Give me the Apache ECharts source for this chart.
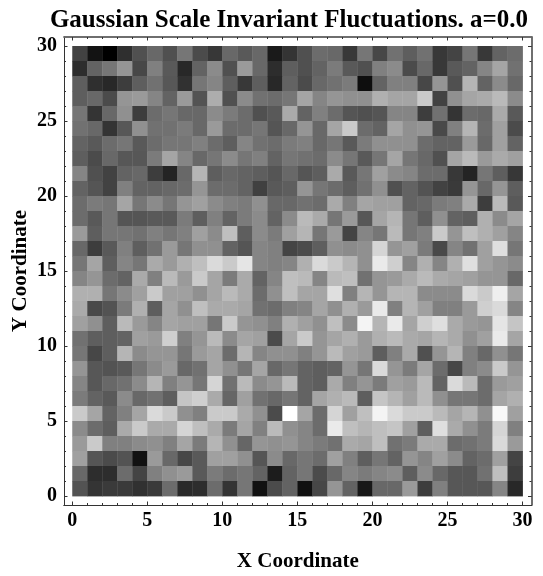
<!DOCTYPE html>
<html><head><meta charset="utf-8">
<script src="https://cdn.jsdelivr.net/npm/echarts@6/dist/echarts.min.js"></script>
<style>html,body{margin:0;padding:0;background:#fff}#c{width:543px;height:576px}</style>
</head><body><div id="c"></div>
<script>
const titleText = 'Gaussian Scale Invariant Fluctuations. a=0.0';
const xName = 'X Coordinate';
const yName = 'Y Coordinate';
const majorTicks = [0,5,10,15,20,25,30];
const minorTicks = [0,1,2,3,4,5,6,7,8,9,10,11,12,13,14,15,16,17,18,19,20,21,22,23,24,25,26,27,28,29,30];
// gray level of each cell, top row (y=29..30) first, left to right
const grayRows = [
[70,20,0,50,85,110,85,125,80,58,110,95,110,28,55,85,115,110,60,125,75,120,100,120,60,72,125,60,105,115],
[48,105,125,155,75,135,95,42,105,145,85,160,110,48,100,85,105,130,95,85,135,145,80,110,60,95,105,140,170,120],
[100,50,42,65,100,120,92,52,125,140,100,60,100,42,105,80,110,120,130,15,105,135,135,75,155,85,185,105,145,110],
[100,110,80,155,160,140,105,160,88,178,85,145,120,115,125,170,140,155,150,150,180,170,170,205,70,150,170,175,190,145],
[125,55,110,150,65,115,125,110,110,145,130,115,85,95,175,105,135,115,90,85,90,140,140,65,120,55,115,110,175,95],
[120,110,55,92,150,120,120,130,110,160,115,115,125,90,110,155,110,170,205,115,105,170,150,155,78,135,185,115,165,80],
[105,95,115,125,95,115,125,125,135,115,100,140,120,115,130,135,110,125,95,130,150,150,150,115,105,105,160,110,165,105],
[100,80,110,92,92,130,170,140,110,125,145,125,135,105,125,120,115,145,125,95,125,170,125,110,85,170,190,160,175,165],
[140,85,70,105,110,65,38,110,185,100,110,105,100,90,110,90,100,175,95,125,165,145,140,115,115,60,38,125,100,58],
[105,90,70,135,105,105,110,115,155,115,115,105,68,95,100,155,125,115,100,120,150,85,105,88,70,62,155,110,155,100],
[115,130,125,170,125,145,125,155,165,145,135,130,150,110,110,120,115,175,135,170,165,165,105,110,130,135,175,65,190,95],
[115,95,125,90,90,95,95,130,100,135,105,130,145,105,145,190,175,125,160,92,170,185,125,100,150,105,100,180,145,170],
[160,100,125,125,120,135,125,135,165,145,195,100,145,130,165,185,125,160,72,140,125,190,125,135,205,155,195,180,165,140],
[110,65,95,135,100,120,160,125,150,150,105,90,140,135,72,80,100,150,145,150,215,155,165,130,78,140,120,165,225,125],
[125,170,100,140,125,175,160,180,195,220,205,230,140,135,140,180,220,205,185,150,235,210,140,180,140,180,225,165,155,145],
[140,155,115,105,175,135,190,160,205,170,130,175,105,140,195,190,140,190,195,120,155,160,175,190,175,170,165,155,155,110],
[180,180,125,145,165,205,165,165,150,170,190,175,115,150,195,170,170,225,135,185,155,185,185,145,145,145,220,205,240,170],
[175,78,88,130,180,100,170,150,195,175,175,170,120,115,135,140,170,150,180,160,235,135,185,165,135,135,160,210,220,140],
[165,150,100,190,160,140,170,165,165,125,205,155,150,135,180,165,150,195,145,245,185,235,170,210,225,175,160,155,230,200],
[120,100,100,105,165,160,210,135,155,190,145,170,165,80,170,205,155,170,180,160,180,190,175,170,185,175,150,165,235,170],
[125,75,100,185,145,155,155,125,160,170,115,185,140,150,150,135,155,190,165,160,100,135,175,85,155,185,135,110,150,125],
[155,92,88,95,125,145,160,110,120,170,150,125,170,110,125,105,100,105,155,125,220,155,130,170,115,75,135,145,205,155],
[140,92,110,120,145,185,135,155,125,215,120,190,145,155,190,105,100,175,135,155,130,165,160,190,105,220,190,115,160,165],
[130,105,95,145,110,120,100,200,210,175,108,165,120,110,125,105,170,180,190,100,200,185,165,190,150,125,125,115,170,180],
[205,170,105,135,170,220,205,150,135,205,205,175,150,80,255,170,115,215,165,195,245,220,205,205,190,170,185,150,248,165],
[145,115,100,175,205,175,175,215,195,175,130,170,135,190,150,140,115,235,195,185,195,200,165,100,225,175,150,130,215,135],
[160,205,135,135,145,150,135,170,130,185,150,108,155,150,155,140,130,120,175,170,195,120,130,175,175,115,120,130,220,160],
[165,90,80,88,18,160,110,75,95,165,165,150,90,145,110,125,115,165,135,100,125,105,155,140,165,145,105,115,165,72],
[110,48,48,115,72,135,150,160,95,130,115,125,105,30,105,125,80,110,140,130,140,145,100,145,110,92,92,120,195,65],
[88,55,62,62,52,62,115,45,48,115,55,125,18,80,105,18,75,155,105,25,110,110,160,65,135,92,92,92,140,42]
];
const cells = [];
grayRows.forEach((row, r) => row.forEach((v, c) => cells.push([c, grayRows.length - 1 - r, v])));

const serif = '"Liberation Serif"';
const xRange = {min:-0.55, max:30.6};
const yRange = {min:-0.6, max:30.6};
function frameAxis(position, ticks, len, labels, color, width, extra){
  return Object.assign({
    type:'value', position, ...extra.range, splitLine:{show:false},
    axisLine:{show:true,onZero:false,lineStyle:{color,width}},
    axisTick:{show:true,inside:true,length:len,customValues:ticks,lineStyle:{color:'#333',width:1}},
    axisLabel:labels?{show:true,customValues:majorTicks,formatter:v=>String(v),fontFamily:serif,fontWeight:'bold',fontSize:20,color:'#000',margin:extra.margin}:{show:false}
  }, extra.more||{});
}
const chart = echarts.init(document.getElementById('c'), null, {renderer:'canvas'});
chart.setOption({
  animation:false, backgroundColor:'#fff',
  title:{text:titleText,left:284,top:3,textAlign:'center',textStyle:{fontFamily:serif,fontWeight:'bold',fontSize:25,color:'#000'}},
  grid:{left:64,top:37,width:467.5,height:468,containLabel:false,outerBoundsMode:'none'},
  visualMap:{show:false,min:0,max:255,dimension:2,seriesIndex:0,inRange:{color:['#000000','#787878','#ffffff']}},
  xAxis:[
    frameAxis('bottom',majorTicks,3.5,true,'#333',1,{range:xRange,margin:6,more:{name:xName,nameLocation:'middle',nameGap:46,nameMoveOverlap:false,nameTextStyle:{fontFamily:serif,fontWeight:'bold',fontSize:21,color:'#000'}}}),
    frameAxis('bottom',minorTicks,2,false,'#333',1,{range:xRange}),
    frameAxis('top',majorTicks,3.5,false,'#666',1.5,{range:xRange}),
    frameAxis('top',minorTicks,2,false,'#666',1.5,{range:xRange})
  ],
  yAxis:[
    frameAxis('left',majorTicks,3.5,true,'#333',1,{range:yRange,margin:7,more:{name:yName,nameLocation:'middle',nameGap:32.5,nameMoveOverlap:false,nameTextStyle:{fontFamily:serif,fontWeight:'bold',fontSize:21,color:'#000'}}}),
    frameAxis('left',minorTicks,2,false,'#333',1,{range:yRange}),
    frameAxis('right',majorTicks,3.5,false,'#666',1.5,{range:yRange}),
    frameAxis('right',minorTicks,2,false,'#666',1.5,{range:yRange})
  ],
  series:[{
    type:'custom', coordinateSystem:'cartesian2d', xAxisIndex:0, yAxisIndex:0, silent:true,
    encode:{x:0,y:1},
    data:cells,
    renderItem:function(params,api){
      const tl = api.coord([api.value(0), api.value(1)+1]);
      const br = api.coord([api.value(0)+1, api.value(1)]);
      return {type:'rect',shape:{x:tl[0],y:tl[1],width:br[0]-tl[0]+0.4,height:br[1]-tl[1]+0.4},style:{fill:api.visual('color')}};
    }
  }]
});
</script></body></html>
